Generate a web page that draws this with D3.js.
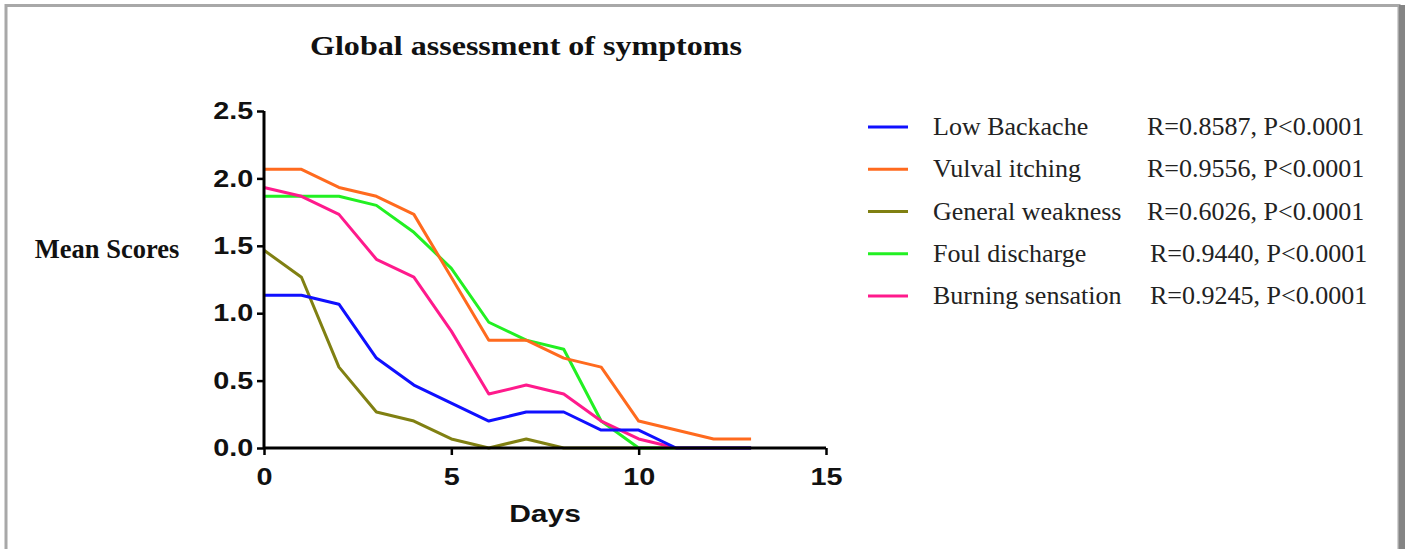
<!DOCTYPE html>
<html>
<head>
<meta charset="utf-8">
<script src="https://cdn.jsdelivr.net/npm/d3@7"></script>
<style>
  body { margin: 0; background: #fff; }
</style>
</head>
<body>
<div id="chart-Div"></div>
<script>

let width = 1411, height = 549;

// days 0..13
let days = d3.range(0, 14);
let seriesNames = ['Low Backache', 'Vulval itching', 'General weakness', 'Foul discharge', 'Burning sensation'];
let seriesStats = ['R=0.8587, P<0.0001', 'R=0.9556, P<0.0001', 'R=0.6026, P<0.0001', 'R=0.9440, P<0.0001', 'R=0.9245, P<0.0001'];
let seriesColors = ['#1010ff', '#ff6a1e', '#808012', '#22f022', '#ff1a8c'];

let lowBackache      = [1.133, 1.133, 1.067, 0.667, 0.467, 0.333, 0.2, 0.267, 0.267, 0.133, 0.133, 0, 0, 0];
let vulvalItching    = [2.067, 2.067, 1.933, 1.867, 1.733, 1.267, 0.8, 0.8, 0.667, 0.6, 0.2, 0.133, 0.067, 0.067];
let generalWeakness  = [1.467, 1.267, 0.6, 0.267, 0.2, 0.067, 0, 0.067, 0, 0, 0, 0, 0, 0];
let foulDischarge    = [1.867, 1.867, 1.867, 1.8, 1.6, 1.333, 0.933, 0.8, 0.733, 0.2, 0, 0, 0, 0];
let burningSensation = [1.933, 1.867, 1.733, 1.4, 1.267, 0.867, 0.4, 0.467, 0.4, 0.2, 0.067, 0, 0, 0];

let seriesValues = [lowBackache, vulvalItching, generalWeakness, foulDischarge, burningSensation];

let xTicks = [0, 5, 10, 15];
let yTicks = [0, 0.5, 1.0, 1.5, 2.0, 2.5];

let svg = d3.select('#chart-Div')
    .append('svg')
    .attr('width', width)
    .attr('height', height);

svg.append('rect')
    .attr('width', width)
    .attr('height', height)
    .attr('fill', '#fff');

// outer frame
svg.append('rect')
    .attr('x', 6).attr('y', 5.5)
    .attr('width', 1393).attr('height', 600)
    .attr('fill', 'none')
    .attr('stroke', '#a8a8a8')
    .attr('stroke-width', 3);
svg.append('line')
    .attr('x1', 1402).attr('x2', 1402)
    .attr('y1', 5).attr('y2', height)
    .attr('stroke', '#858585')
    .attr('stroke-width', 6);

// scales
let xScale = d3.scaleLinear().domain([0, 15]).range([264, 826]);
let yScale = d3.scaleLinear().domain([0, 2.5]).range([448, 111]);

// lines (blue last so it sits on top at zero)
let lineGen = d3.line()
    .x((d, i) => xScale(days[i]))
    .y((d) => yScale(d));

let drawOrder = [2, 3, 1, 4, 0];
drawOrder.forEach(function (k) {
    svg.append('path')
        .attr('d', lineGen(seriesValues[k]))
        .attr('fill', 'none')
        .attr('stroke', seriesColors[k])
        .attr('stroke-width', 3)
        .attr('stroke-linejoin', 'round');
});

// axes
let xAxis = svg.append('g')
    .attr('transform', 'translate(0,448)')
    .call(d3.axisBottom(xScale).tickValues(xTicks).tickFormat(d3.format('d')).tickSize(7).tickPadding(13));
let yAxis = svg.append('g')
    .attr('transform', 'translate(264,0)')
    .call(d3.axisLeft(yScale).tickValues(yTicks).tickFormat(d3.format('.1f')).tickSize(7).tickPadding(2));

[xAxis, yAxis].forEach(function (ax) {
    ax.select('.domain').attr('stroke', '#000').attr('stroke-width', 3);
    ax.selectAll('.tick line').attr('stroke', '#000').attr('stroke-width', 2.5);
    ax.selectAll('.tick text')
        .attr('fill', '#111')
        .style('font-family', '"Liberation Sans", Arial, sans-serif')
        .style('font-weight', 'bold')
        .style('font-size', '24px')
        .attr('transform', 'scale(1.2,1)');
});
// keep the domain path ends square and flush
xAxis.select('.domain').attr('d', 'M264,0H826');
yAxis.select('.domain').attr('d', 'M0,111V449');

// title & axis titles
svg.append('text')
    .attr('x', 310).attr('y', 55)
    .attr('textLength', 432)
    .attr('lengthAdjust', 'spacingAndGlyphs')
    .style('font-family', '"Liberation Serif", "Times New Roman", serif')
    .style('font-weight', 'bold')
    .style('font-size', '28px')
    .attr('fill', '#111')
    .text('Global assessment of symptoms');

svg.append('text')
    .attr('x', 107).attr('y', 258)
    .attr('text-anchor', 'middle')
    .style('font-family', '"Liberation Serif", "Times New Roman", serif')
    .style('font-weight', 'bold')
    .style('font-size', '26.5px')
    .attr('fill', '#111')
    .text('Mean Scores');

svg.append('text')
    .attr('transform', 'translate(545,522) scale(1.25,1)')
    .attr('text-anchor', 'middle')
    .style('font-family', '"Liberation Sans", Arial, sans-serif')
    .style('font-weight', 'bold')
    .style('font-size', '24px')
    .attr('fill', '#111')
    .text('Days');

// legend
let legendY = d3.scaleLinear().domain([0, 4]).range([127, 296]);
let legend = svg.append('g');
seriesNames.forEach(function (name, i) {
    let y = legendY(i);
    legend.append('line')
        .attr('x1', 868).attr('x2', 908)
        .attr('y1', y).attr('y2', y)
        .attr('stroke', seriesColors[i])
        .attr('stroke-width', 3);
    legend.append('text')
        .attr('x', 933).attr('y', y + 8)
        .style('font-family', '"Liberation Serif", "Times New Roman", serif')
        .style('font-size', '26px')
        .attr('fill', '#222')
        .text(name);
    legend.append('text')
        .attr('x', i === 3 || i === 4 ? 1150 : 1147).attr('y', y + 8)
        .style('font-family', '"Liberation Serif", "Times New Roman", serif')
        .style('font-size', '26px')
        .attr('fill', '#222')
        .text(seriesStats[i]);
});

</script>
</body>
</html>
